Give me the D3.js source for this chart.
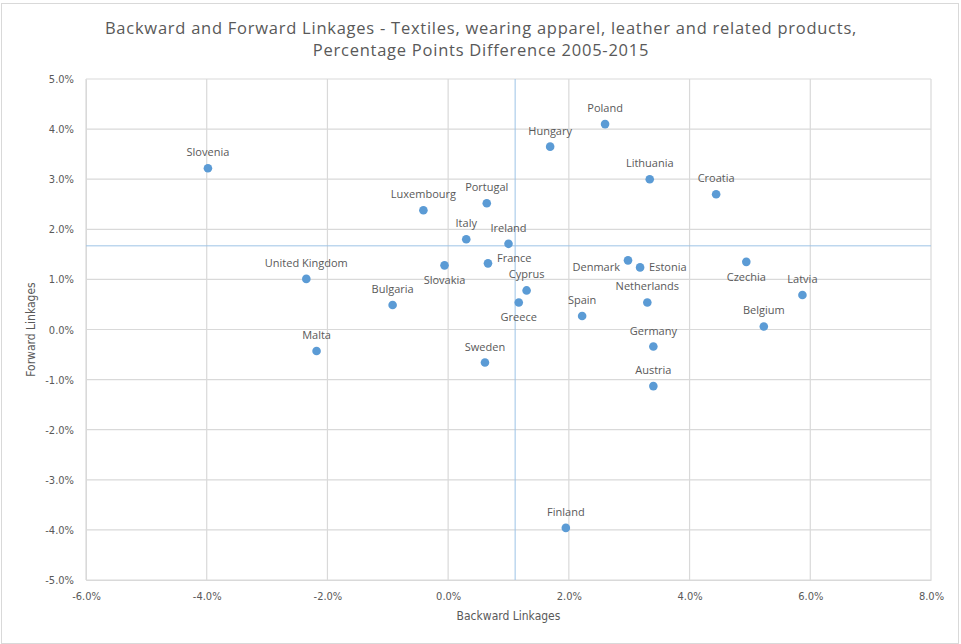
<!DOCTYPE html>
<html>
<head>
<meta charset="utf-8">
<script src="https://cdn.jsdelivr.net/npm/d3@7"></script>
<style>
  html, body { margin: 0; padding: 0; background: #fff; }
  svg { display: block; }
</style>
</head>
<body>
<svg id="chart" width="961" height="644"></svg>
<script>
// Percentage-point changes 2005-2015, textiles, wearing apparel, leather
const countries = ["Slovenia", "Poland", "Hungary", "Lithuania", "Croatia", "Luxembourg", "Portugal",
  "Italy", "Ireland", "United Kingdom", "Slovakia", "France", "Cyprus", "Bulgaria", "Greece", "Spain",
  "Denmark", "Estonia", "Netherlands", "Czechia", "Latvia", "Belgium", "Germany", "Austria", "Malta",
  "Sweden", "Finland"];
const backward = [-3.98, 2.60, 1.69, 3.34, 4.44, -0.41, 0.64,
  0.30, 1.00, -2.35, -0.06, 0.66, 1.30, -0.92, 1.17, 2.22,
  2.98, 3.18, 3.30, 4.94, 5.87, 5.23, 3.40, 3.40, -2.18,
  0.61, 1.95];
const forward = [3.22, 4.10, 3.65, 3.00, 2.70, 2.38, 2.52,
  1.80, 1.71, 1.01, 1.28, 1.32, 0.78, 0.49, 0.54, 0.27,
  1.38, 1.24, 0.54, 1.35, 0.69, 0.06, -0.34, -1.13, -0.43,
  -0.66, -3.96];
// label placement relative to each point
const labelSide = ["above", "above", "above", "above", "above", "above", "above",
  "above", "above", "above", "below", "rightHigh", "above", "above", "below", "above",
  "leftLow", "right", "above", "below", "above", "above", "above", "above", "above",
  "above", "above"];
// reference lines (averages)
const avgBackward = 1.11;
const avgForward = 1.67;
const xTicks = [-6, -4, -2, 0, 2, 4, 6, 8];
const yTicks = [-5, -4, -3, -2, -1, 0, 1, 2, 3, 4, 5];
const titleLines = ["Backward and Forward Linkages - Textiles, wearing apparel, leather and related products,",
  "Percentage Points Difference 2005-2015"];

const svg = d3.select("#chart");
const W = 961, H = 644;
const margin = { left: 86, right: 30, top: 79, bottom: 64 };
const textColor = "#595959";
const gridColor = "#d9d9d9";
const dotColor = "#5b9bd5";
const font = "'Open Sans', 'Noto Sans', sans-serif";
const narrow = "'Liberation Sans Narrow', 'DejaVu Sans Condensed', sans-serif";

// outer frame
svg.append("rect").attr("x", 1.5).attr("y", 3.5).attr("width", W - 4).attr("height", H - 4)
  .attr("fill", "#fff").attr("stroke", "#d9d9d9").attr("stroke-width", 1);

const x = d3.scaleLinear().domain([-6, 8]).range([margin.left, W - margin.right]);
const y = d3.scaleLinear().domain([-5, 5]).range([H - margin.bottom, margin.top]);

// gridlines
const grid = svg.append("g");
grid.selectAll("line.v").data(xTicks).join("line")
  .attr("x1", d => x(d)).attr("x2", d => x(d))
  .attr("y1", y(-5)).attr("y2", y(5))
  .attr("stroke", gridColor).attr("stroke-width", 1.2);
grid.selectAll("line.h").data(yTicks).join("line")
  .attr("x1", x(-6)).attr("x2", x(8))
  .attr("y1", d => y(d)).attr("y2", d => y(d))
  .attr("stroke", gridColor).attr("stroke-width", 1.2);

// axes (labels only)
const fmt = d => d.toFixed(1) + "%";
const xAxis = svg.append("g").attr("transform", `translate(0,${y(-5)})`)
  .call(d3.axisBottom(x).tickValues(xTicks).tickFormat(fmt).tickSize(0).tickPadding(12));
const yAxis = svg.append("g").attr("transform", `translate(${x(-6)},0)`)
  .call(d3.axisLeft(y).tickValues(yTicks).tickFormat(fmt).tickSize(0).tickPadding(12));
[xAxis, yAxis].forEach(a => {
  a.select(".domain").attr("stroke", gridColor);
  a.selectAll("text").attr("fill", textColor).style("font-family", narrow).style("font-size", "11px");
});

// average reference lines
svg.append("line").attr("x1", x(avgBackward)).attr("x2", x(avgBackward))
  .attr("y1", y(-5)).attr("y2", y(5)).attr("stroke", "#9dc3e6").attr("stroke-width", 1);
svg.append("line").attr("x1", x(-6)).attr("x2", x(8))
  .attr("y1", y(avgForward)).attr("y2", y(avgForward)).attr("stroke", "#9dc3e6").attr("stroke-width", 1);

// points
const data = countries.map((c, i) => ({ name: c, bx: backward[i], fy: forward[i], side: labelSide[i] }));
svg.append("g").selectAll("circle").data(data).join("circle")
  .attr("cx", d => x(d.bx)).attr("cy", d => y(d.fy)).attr("r", 4.3)
  .attr("fill", dotColor);

// point labels
const offsets = {
  above: [0, -12, "middle"],
  below: [0, 19, "middle"],
  right: [9, 4, "start"],
  rightHigh: [9, -1, "start"],
  leftLow: [-8, 11, "end"]
};
svg.append("g").selectAll("text").data(data).join("text")
  .attr("x", d => x(d.bx) + offsets[d.side][0])
  .attr("y", d => y(d.fy) + offsets[d.side][1])
  .attr("text-anchor", d => offsets[d.side][2])
  .attr("fill", textColor)
  .style("font-family", font).style("font-size", "11px")
  .text(d => d.name);

// title
svg.append("g").selectAll("text").data(titleLines).join("text")
  .attr("x", 481).attr("y", (d, i) => 34 + i * 22)
  .attr("text-anchor", "middle").attr("fill", textColor)
  .style("font-family", font).style("font-size", "16.5px").style("letter-spacing", "0.75px")
  .text(d => d);

// axis titles
svg.append("text").attr("x", x(1)).attr("y", 620).attr("text-anchor", "middle")
  .attr("fill", textColor).style("font-family", narrow).style("font-size", "12px")
  .text("Backward Linkages");
svg.append("text").attr("transform", `translate(35,${y(0)}) rotate(-90)`).attr("text-anchor", "middle")
  .attr("fill", textColor).style("font-family", narrow).style("font-size", "12px")
  .text("Forward Linkages");
</script>
</body>
</html>
